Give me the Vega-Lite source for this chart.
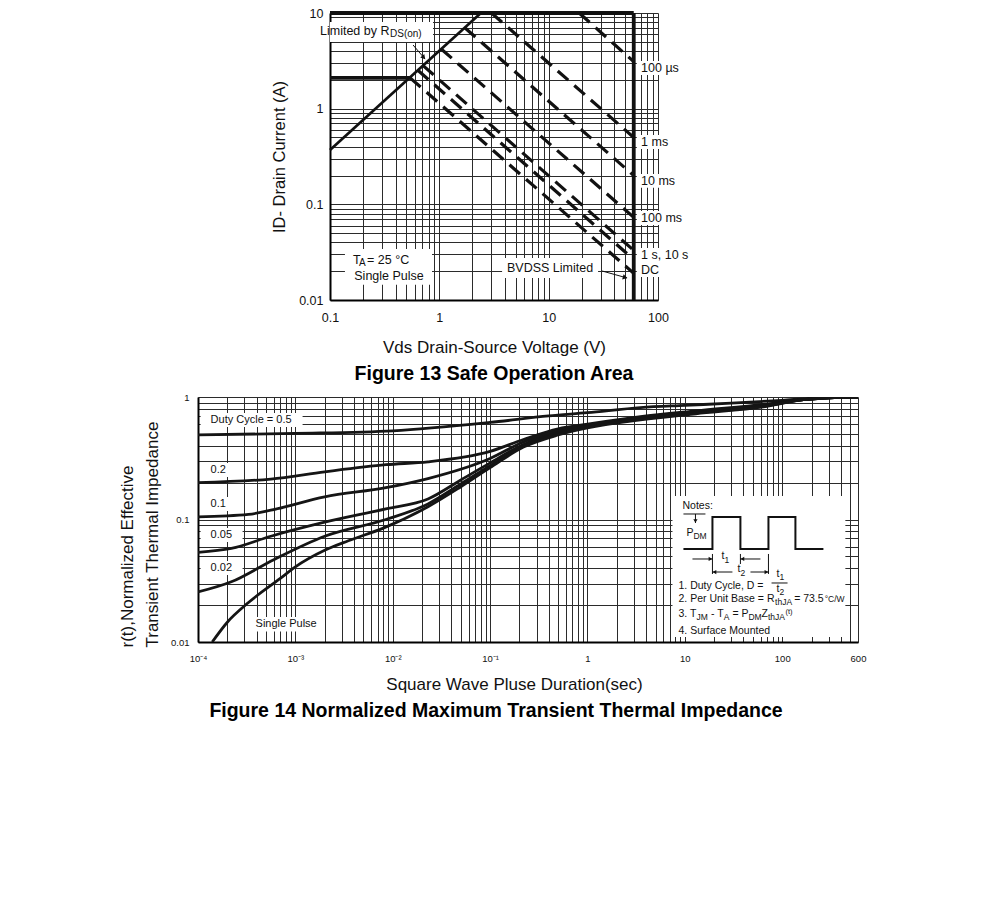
{
  "$schema": "https://vega.github.io/schema/vega-lite/v6.json",
  "padding": {"left": 118, "top": 5, "right": 5, "bottom": 5},
  "background": "white",
  "spacing": 9,
  "config": {
    "font": "Liberation Sans",
    "view": {"stroke": null},
    "axis": {"grid": true, "gridColor": "#2b2b2b", "gridWidth": 1, "ticks": false, "domainColor": "#000", "domainWidth": 2, "labelColor": "#111", "titleColor": "#111", "titleFontWeight": "normal", "labelFlush": false, "labelOverlap": false, "labelFont": "Liberation Sans", "titleFont": "Liberation Sans"},
    "title": {"font": "Liberation Sans", "fontWeight": "bold", "color": "#000"},
    "text": {"font": "Liberation Sans", "color": "#111"}
  },
  "datasets": {
    "soa_boxes": [
      {"box": "Limited by RDS(on)", "v": 0.1, "v2": 0.875, "i": 4.98, "i2": 8.05},
      {"box": "TA = 25 °C, Single Pulse", "v": 0.137, "v2": 0.857, "i": 0.0144, "i2": 0.0342},
      {"box": "BVDSS Limited", "v": 3.75, "v2": 28.3, "i": 0.017, "i2": 0.0275},
      {"box": "100 µs", "v": 64, "v2": 125, "i": 2.25, "i2": 3.15},
      {"box": "1 ms", "v": 64, "v2": 125, "i": 0.379, "i2": 0.532},
      {"box": "10 ms", "v": 64, "v2": 125, "i": 0.149, "i2": 0.208},
      {"box": "100 ms", "v": 64, "v2": 125, "i": 0.0609, "i2": 0.0854},
      {"box": "1 s, 10 s, DC", "v": 64, "v2": 125, "i": 0.0174, "i2": 0.035}
    ],
    "soa_solid": [
      {"series": "Pulsed ID limit", "v": 0.1, "i": 10},
      {"series": "Pulsed ID limit", "v": 60, "i": 10},
      {"series": "BVDSS limit", "v": 60, "i": 0.01},
      {"series": "BVDSS limit", "v": 60, "i": 10},
      {"series": "Continuous ID limit", "v": 0.1, "i": 2.1},
      {"series": "Continuous ID limit", "v": 0.54, "i": 2.1}
    ],
    "soa_rds": [
      {"series": "RDS(on) limit", "v": 0.1, "i": 0.37},
      {"series": "RDS(on) limit", "v": 2.4, "i": 10}
    ],
    "soa_pulse": [
      {"series": "100 µs", "v": 19, "i": 10}, {"series": "100 µs", "v": 60, "i": 3.1},
      {"series": "1 ms", "v": 3, "i": 10}, {"series": "1 ms", "v": 60, "i": 0.5},
      {"series": "10 ms", "v": 1.71, "i": 7.0}, {"series": "10 ms", "v": 60, "i": 0.2},
      {"series": "100 ms", "v": 1.04, "i": 4.21}, {"series": "100 ms", "v": 60, "i": 0.073},
      {"series": "1 s", "v": 0.71, "i": 2.82}, {"series": "1 s", "v": 60, "i": 0.033},
      {"series": "10 s", "v": 0.636, "i": 2.52}, {"series": "10 s", "v": 60, "i": 0.0265},
      {"series": "DC", "v": 0.54, "i": 2.1}, {"series": "DC", "v": 60, "i": 0.019}
    ],
    "soa_text_left": [
      {"label": "Limited by R", "v": 0.081, "i": 6.49},
      {"label": "T", "v": 0.162, "i": 0.02624},
      {"label": "= 25 °C", "v": 0.218, "i": 0.02624},
      {"label": "100 µs", "v": 70, "i": 2.66},
      {"label": "1 ms", "v": 70, "i": 0.449},
      {"label": "10 ms", "v": 70, "i": 0.176},
      {"label": "100 ms", "v": 70, "i": 0.0721},
      {"label": "1 s, 10 s", "v": 70, "i": 0.0296},
      {"label": "DC", "v": 70, "i": 0.0206}
    ],
    "soa_text_center": [
      {"label": "Single Pulse", "v": 0.3466, "i": 0.01787},
      {"label": "BVDSS Limited", "v": 10.3, "i": 0.0216}
    ],
    "soa_text_sub": [
      {"label": "DS(on)", "v": 0.354, "i": 6.04},
      {"label": "A", "v": 0.184, "i": 0.0244}
    ],
    "soa_arrows": [
      {"v": 0.575, "v2": 0.74, "i": 4.63, "i2": 3.3},
      {"v": 30.8, "v2": 52.1, "i": 0.0201, "i2": 0.017}
    ],
    "zth": [
      {"duty": "0.5", "t": 0.0001, "r": 0.49}, {"duty": "0.5", "t": 0.001, "r": 0.505}, {"duty": "0.5", "t": 0.01, "r": 0.53}, {"duty": "0.5", "t": 0.1, "r": 0.62}, {"duty": "0.5", "t": 0.4, "r": 0.7}, {"duty": "0.5", "t": 1, "r": 0.745}, {"duty": "0.5", "t": 3.5, "r": 0.82}, {"duty": "0.5", "t": 10, "r": 0.855}, {"duty": "0.5", "t": 30, "r": 0.89}, {"duty": "0.5", "t": 100, "r": 0.94}, {"duty": "0.5", "t": 200, "r": 0.975}, {"duty": "0.5", "t": 400, "r": 0.995}, {"duty": "0.5", "t": 600, "r": 1.0},
      {"duty": "0.2", "t": 0.0001, "r": 0.2}, {"duty": "0.2", "t": 0.00056, "r": 0.214}, {"duty": "0.2", "t": 0.002, "r": 0.245}, {"duty": "0.2", "t": 0.0085, "r": 0.28}, {"duty": "0.2", "t": 0.023, "r": 0.296}, {"duty": "0.2", "t": 0.1, "r": 0.36}, {"duty": "0.2", "t": 0.22, "r": 0.45}, {"duty": "0.2", "t": 0.5, "r": 0.55}, {"duty": "0.2", "t": 1, "r": 0.6}, {"duty": "0.2", "t": 3.5, "r": 0.69}, {"duty": "0.2", "t": 13, "r": 0.77}, {"duty": "0.2", "t": 64, "r": 0.87}, {"duty": "0.2", "t": 165, "r": 0.95}, {"duty": "0.2", "t": 300, "r": 0.985}, {"duty": "0.2", "t": 600, "r": 1.0},
      {"duty": "0.1", "t": 0.0001, "r": 0.105}, {"duty": "0.1", "t": 0.00033, "r": 0.11}, {"duty": "0.1", "t": 0.00056, "r": 0.119}, {"duty": "0.1", "t": 0.002, "r": 0.153}, {"duty": "0.1", "t": 0.0085, "r": 0.182}, {"duty": "0.1", "t": 0.023, "r": 0.216}, {"duty": "0.1", "t": 0.1, "r": 0.315}, {"duty": "0.1", "t": 0.22, "r": 0.43}, {"duty": "0.1", "t": 0.5, "r": 0.53}, {"duty": "0.1", "t": 1, "r": 0.59}, {"duty": "0.1", "t": 3.5, "r": 0.68}, {"duty": "0.1", "t": 13, "r": 0.76}, {"duty": "0.1", "t": 64, "r": 0.86}, {"duty": "0.1", "t": 165, "r": 0.95}, {"duty": "0.1", "t": 300, "r": 0.985}, {"duty": "0.1", "t": 600, "r": 1.0},
      {"duty": "0.05", "t": 0.0001, "r": 0.054}, {"duty": "0.05", "t": 0.00022, "r": 0.058}, {"duty": "0.05", "t": 0.00056, "r": 0.073}, {"duty": "0.05", "t": 0.002, "r": 0.095}, {"duty": "0.05", "t": 0.0085, "r": 0.122}, {"duty": "0.05", "t": 0.023, "r": 0.147}, {"duty": "0.05", "t": 0.05, "r": 0.21}, {"duty": "0.05", "t": 0.1, "r": 0.29}, {"duty": "0.05", "t": 0.22, "r": 0.41}, {"duty": "0.05", "t": 0.5, "r": 0.51}, {"duty": "0.05", "t": 1, "r": 0.58}, {"duty": "0.05", "t": 3.5, "r": 0.67}, {"duty": "0.05", "t": 13, "r": 0.75}, {"duty": "0.05", "t": 64, "r": 0.85}, {"duty": "0.05", "t": 165, "r": 0.95}, {"duty": "0.05", "t": 300, "r": 0.985}, {"duty": "0.05", "t": 600, "r": 1.0},
      {"duty": "0.02", "t": 0.0001, "r": 0.0256}, {"duty": "0.02", "t": 0.00022, "r": 0.031}, {"duty": "0.02", "t": 0.0006, "r": 0.047}, {"duty": "0.02", "t": 0.002, "r": 0.073}, {"duty": "0.02", "t": 0.0085, "r": 0.1}, {"duty": "0.02", "t": 0.023, "r": 0.134}, {"duty": "0.02", "t": 0.05, "r": 0.195}, {"duty": "0.02", "t": 0.1, "r": 0.275}, {"duty": "0.02", "t": 0.22, "r": 0.4}, {"duty": "0.02", "t": 0.5, "r": 0.5}, {"duty": "0.02", "t": 1, "r": 0.57}, {"duty": "0.02", "t": 3.5, "r": 0.66}, {"duty": "0.02", "t": 13, "r": 0.74}, {"duty": "0.02", "t": 64, "r": 0.84}, {"duty": "0.02", "t": 165, "r": 0.95}, {"duty": "0.02", "t": 300, "r": 0.985}, {"duty": "0.02", "t": 600, "r": 1.0},
      {"duty": "Single Pulse", "t": 0.00014, "r": 0.01}, {"duty": "Single Pulse", "t": 0.0002, "r": 0.0145}, {"duty": "Single Pulse", "t": 0.00033, "r": 0.021}, {"duty": "Single Pulse", "t": 0.0007, "r": 0.033}, {"duty": "Single Pulse", "t": 0.001, "r": 0.041}, {"duty": "Single Pulse", "t": 0.002, "r": 0.056}, {"duty": "Single Pulse", "t": 0.0035, "r": 0.067}, {"duty": "Single Pulse", "t": 0.008, "r": 0.085}, {"duty": "Single Pulse", "t": 0.023, "r": 0.127}, {"duty": "Single Pulse", "t": 0.05, "r": 0.185}, {"duty": "Single Pulse", "t": 0.1, "r": 0.265}, {"duty": "Single Pulse", "t": 0.22, "r": 0.39}, {"duty": "Single Pulse", "t": 0.5, "r": 0.49}, {"duty": "Single Pulse", "t": 1, "r": 0.56}, {"duty": "Single Pulse", "t": 3.5, "r": 0.65}, {"duty": "Single Pulse", "t": 13, "r": 0.73}, {"duty": "Single Pulse", "t": 64, "r": 0.83}, {"duty": "Single Pulse", "t": 165, "r": 0.95}, {"duty": "Single Pulse", "t": 300, "r": 0.985}, {"duty": "Single Pulse", "t": 600, "r": 1.0}
    ],
    "zth_boxes": [
      {"box": "Duty Cycle = 0.5", "t": 0.0001064, "t2": 0.001186, "r": 0.569, "r2": 0.74},
      {"box": "0.2", "t": 0.0001064, "t2": 0.0002265, "r": 0.222, "r2": 0.289},
      {"box": "0.1", "t": 0.0001064, "t2": 0.0002265, "r": 0.1174, "r2": 0.1528},
      {"box": "0.05", "t": 0.0001064, "t2": 0.000287, "r": 0.0656, "r2": 0.0853},
      {"box": "0.02", "t": 0.0001064, "t2": 0.000287, "r": 0.0352, "r2": 0.0458},
      {"box": "Single Pulse", "t": 0.000364, "t2": 0.001815, "r": 0.0122, "r2": 0.016},
      {"box": "Notes", "t": 7.46, "t2": 445, "r": 0.011, "r2": 0.1555}
    ],
    "zth_labels": [
      {"label": "Duty Cycle = 0.5", "t": 0.0001347, "r": 0.649},
      {"label": "0.2", "t": 0.0001347, "r": 0.253},
      {"label": "0.1", "t": 0.0001347, "r": 0.1337},
      {"label": "0.05", "t": 0.0001347, "r": 0.0749},
      {"label": "0.02", "t": 0.0001347, "r": 0.0401},
      {"label": "Single Pulse", "t": 0.00039, "r": 0.01403}
    ],
    "wave": [
      {"k": 0, "t": 9.67, "r": 0.05742}, {"k": 1, "t": 19.2, "r": 0.05742}, {"k": 2, "t": 19.2, "r": 0.1048}, {"k": 3, "t": 37.2, "r": 0.1048}, {"k": 4, "t": 37.2, "r": 0.05742}, {"k": 5, "t": 72.2, "r": 0.05742}, {"k": 6, "t": 72.2, "r": 0.1048}, {"k": 7, "t": 136.6, "r": 0.1048}, {"k": 8, "t": 136.6, "r": 0.05742}, {"k": 9, "t": 264.8, "r": 0.05742}
    ],
    "note_rules": [
      {"t": 9.67, "t2": 16.27, "r": 0.1109, "r2": 0.1109},
      {"t": 12.85, "t2": 12.85, "r": 0.1109, "r2": 0.0936},
      {"t": 19.2, "t2": 19.2, "r": 0.05231, "r2": 0.03591},
      {"t": 37.2, "t2": 37.2, "r": 0.05231, "r2": 0.04332},
      {"t": 72.2, "t2": 72.2, "r": 0.05231, "r2": 0.03591},
      {"t": 11.97, "t2": 19.2, "r": 0.0476, "r2": 0.0476},
      {"t": 59.7, "t2": 37.2, "r": 0.0476, "r2": 0.0476},
      {"t": 30.8, "t2": 19.2, "r": 0.03727, "r2": 0.03727},
      {"t": 47.2, "t2": 72.2, "r": 0.03727, "r2": 0.03727},
      {"t": 77.7, "t2": 113.4, "r": 0.03032, "r2": 0.03032}
    ],
    "note_text": [
      {"label": "Notes:", "t": 9.45, "r": 0.1289},
      {"label": "P", "t": 10.38, "r": 0.0776},
      {"label": "t", "t": 23.75, "r": 0.0504},
      {"label": "t", "t": 34.7, "r": 0.0394},
      {"label": "t", "t": 87.2, "r": 0.0356},
      {"label": "t", "t": 87.2, "r": 0.0272},
      {"label": "1. Duty Cycle, D =", "t": 8.6, "r": 0.02865},
      {"label": "2. Per Unit Base = R", "t": 8.6, "r": 0.02244},
      {"label": "= 73.5", "t": 132.5, "r": 0.02244},
      {"label": "3. T", "t": 8.6, "r": 0.01693},
      {"label": "- T", "t": 18.53, "r": 0.01693},
      {"label": "= P", "t": 30.8, "r": 0.01693},
      {"label": "Z", "t": 61.15, "r": 0.01693},
      {"label": "4. Surface Mounted", "t": 8.6, "r": 0.0123}
    ],
    "note_sub": [
      {"label": "DM", "t": 12.25, "r": 0.0733},
      {"label": "1", "t": 25.5, "r": 0.0467},
      {"label": "2", "t": 37.2, "r": 0.0366},
      {"label": "1", "t": 93.6, "r": 0.0337},
      {"label": "2", "t": 93.6, "r": 0.0257},
      {"label": "thJA", "t": 84.5, "r": 0.0212},
      {"label": "°C/W", "t": 273, "r": 0.02244},
      {"label": "JM", "t": 13.16, "r": 0.016},
      {"label": "A", "t": 25.08, "r": 0.016},
      {"label": "DM", "t": 44.98, "r": 0.016},
      {"label": "thJA", "t": 71.3, "r": 0.016}
    ]
  },
  "vconcat": [
    {
      "spacing": 0,
      "hconcat": [
        {"width": 73, "height": 10, "data": {"values": []}, "mark": {"type": "point", "opacity": 0}, "encoding": {}},
        {
          "width": 328,
          "height": 287,
          "title": {"text": "Figure 13 Safe Operation Area", "orient": "bottom", "fontSize": 19.5, "offset": 9},
          "encoding": {
            "x": {"field": "v", "type": "quantitative", "scale": {"type": "log", "domain": [0.1, 100], "nice": false},
              "axis": {"values": [0.1, 0.2, 0.3, 0.4, 0.5, 0.6, 0.7, 0.8, 0.9, 1, 2, 3, 4, 5, 6, 7, 8, 9, 10, 20, 30, 40, 50, 60, 70, 80, 90, 100],
                "labelExpr": "datum.value == 0.1 ? '0.1' : datum.value == 1 ? '1' : datum.value == 10 ? '10' : datum.value == 100 ? '100' : ''",
                "title": "Vds Drain-Source Voltage (V)", "labelFontSize": 12.5, "labelPadding": 11, "titleFontSize": 17, "titlePadding": 16}},
            "y": {"field": "i", "type": "quantitative", "scale": {"type": "log", "domain": [0.01, 10], "nice": false},
              "axis": {"values": [0.01, 0.02, 0.03, 0.04, 0.05, 0.06, 0.07, 0.08, 0.09, 0.1, 0.2, 0.3, 0.4, 0.5, 0.6, 0.7, 0.8, 0.9, 1, 2, 3, 4, 5, 6, 7, 8, 9, 10],
                "labelExpr": "datum.value == 10 ? '10' : datum.value == 1 ? '1' : datum.value == 0.1 ? '0.1' : datum.value == 0.01 ? '0.01' : ''",
                "title": "ID- Drain Current (A)", "labelFontSize": 12.5, "labelPadding": 7, "titleFontSize": 16.5, "titlePadding": 11}}
          },
          "layer": [
            {"data": {"name": "soa_boxes"}, "mark": {"type": "rect", "fill": "white"}, "encoding": {"x2": {"field": "v2"}, "y2": {"field": "i2"}}},
            {"data": {"name": "soa_solid"}, "mark": {"type": "line", "color": "#111", "strokeWidth": 3.8, "strokeCap": "butt"}, "encoding": {"detail": {"field": "series"}}},
            {"data": {"name": "soa_rds"}, "mark": {"type": "line", "color": "#111", "strokeWidth": 2.7}, "encoding": {"detail": {"field": "series"}}},
            {"data": {"name": "soa_pulse"}, "mark": {"type": "line", "color": "#111", "strokeWidth": 3.2, "strokeDash": [14, 8]}, "encoding": {"detail": {"field": "series"}}},
            {"data": {"name": "soa_arrows"}, "mark": {"type": "rule", "color": "#111", "strokeWidth": 1}, "encoding": {"x2": {"field": "v2"}, "y2": {"field": "i2"}}},
            {"data": {"values": [{"v": 0.72, "i": 3.43}]}, "mark": {"type": "point", "shape": "triangle-down", "filled": true, "color": "#111", "opacity": 1, "size": 28, "angle": -40}},
            {"data": {"values": [{"v": 50, "i": 0.0172}]}, "mark": {"type": "point", "shape": "triangle-down", "filled": true, "color": "#111", "opacity": 1, "size": 28, "angle": -74}},
            {"data": {"name": "soa_text_left"}, "mark": {"type": "text", "align": "left", "baseline": "middle", "fontSize": 12.5}, "encoding": {"text": {"field": "label"}}},
            {"data": {"name": "soa_text_center"}, "mark": {"type": "text", "align": "center", "baseline": "middle", "fontSize": 12.5}, "encoding": {"text": {"field": "label"}}},
            {"data": {"name": "soa_text_sub"}, "mark": {"type": "text", "align": "left", "baseline": "middle", "fontSize": 10}, "encoding": {"text": {"field": "label"}}}
          ]
        }
      ]
    },
    {
      "width": 660,
      "height": 245,
      "title": {"text": "Figure 14 Normalized Maximum Transient Thermal Impedance", "orient": "bottom", "fontSize": 19.5, "offset": 9, "dx": -32},
      "encoding": {
        "x": {"field": "t", "type": "quantitative", "scale": {"type": "log", "domain": [0.0001, 600], "nice": false},
          "axis": {"values": [0.0001, 0.0002, 0.0003, 0.0004, 0.0005, 0.0006, 0.0007, 0.0008, 0.0009, 0.001, 0.002, 0.003, 0.004, 0.005, 0.006, 0.007, 0.008, 0.009, 0.01, 0.02, 0.03, 0.04, 0.05, 0.06, 0.07, 0.08, 0.09, 0.1, 0.2, 0.3, 0.4, 0.5, 0.6, 0.7, 0.8, 0.9, 1, 2, 3, 4, 5, 6, 7, 8, 9, 10, 20, 30, 40, 50, 60, 70, 80, 90, 100, 200, 300, 400, 500, 600],
            "labelExpr": "datum.value == 0.0001 ? '10⁻⁴' : datum.value == 0.001 ? '10⁻³' : datum.value == 0.01 ? '10⁻²' : datum.value == 0.1 ? '10⁻¹' : datum.value == 1 ? '1' : datum.value == 10 ? '10' : datum.value == 100 ? '100' : datum.value == 600 ? '600' : ''",
            "title": "Square Wave Pluse Duration(sec)", "titleX": 316, "labelFontSize": 9.5, "labelPadding": 11, "titleFontSize": 17, "titlePadding": 14}},
        "y": {"field": "r", "type": "quantitative", "scale": {"type": "log", "domain": [0.01, 1], "nice": false},
          "axis": {"values": [0.01, 0.02, 0.03, 0.04, 0.05, 0.06, 0.07, 0.08, 0.09, 0.1, 0.2, 0.3, 0.4, 0.5, 0.6, 0.7, 0.8, 0.9, 1],
            "labelExpr": "datum.value == 1 ? '1' : datum.value == 0.1 ? '0.1' : datum.value == 0.01 ? '0.01' : ''",
            "title": ["r(t),Normalized Effective", "Transient Thermal Impedance"], "titleFontSize": 17, "titleLineHeight": 25, "titleAlign": "left", "titleY": 250,
            "labelFontSize": 9.5, "labelPadding": 9, "titlePadding": 9}}
      },
      "layer": [
        {"data": {"name": "zth_boxes"}, "mark": {"type": "rect", "fill": "white"}, "encoding": {"x2": {"field": "t2"}, "y2": {"field": "r2"}}},
        {"data": {"name": "zth"}, "mark": {"type": "line", "color": "#151515", "strokeWidth": 2.8, "interpolate": "monotone", "clip": true}, "encoding": {"detail": {"field": "duty"}}},
        {"data": {"name": "wave"}, "mark": {"type": "line", "color": "#111", "strokeWidth": 2}, "encoding": {"order": {"field": "k"}}},
        {"data": {"name": "note_rules"}, "mark": {"type": "rule", "color": "#111", "strokeWidth": 1}, "encoding": {"x2": {"field": "t2"}, "y2": {"field": "r2"}}},
        {"data": {"values": [{"t": 18.32, "r": 0.0476}, {"t": 68.8, "r": 0.03727}]}, "mark": {"type": "point", "shape": "triangle-right", "filled": true, "color": "#111", "opacity": 1, "size": 18}},
        {"data": {"values": [{"t": 39.0, "r": 0.0476}, {"t": 20.14, "r": 0.03727}]}, "mark": {"type": "point", "shape": "triangle-left", "filled": true, "color": "#111", "opacity": 1, "size": 18}},
        {"data": {"values": [{"t": 12.85, "r": 0.0972}]}, "mark": {"type": "point", "shape": "triangle-down", "filled": true, "color": "#111", "opacity": 1, "size": 18}},
        {"data": {"name": "zth_labels"}, "mark": {"type": "text", "align": "left", "baseline": "middle", "fontSize": 11}, "encoding": {"text": {"field": "label"}}},
        {"data": {"name": "note_text"}, "mark": {"type": "text", "align": "left", "baseline": "middle", "fontSize": 10.5}, "encoding": {"text": {"field": "label"}}},
        {"data": {"name": "note_sub"}, "mark": {"type": "text", "align": "left", "baseline": "middle", "fontSize": 8.5}, "encoding": {"text": {"field": "label"}}},
        {"data": {"values": [{"label": "(t)", "t": 107.9, "r": 0.0176}]}, "mark": {"type": "text", "align": "left", "baseline": "middle", "fontSize": 7.5}, "encoding": {"text": {"field": "label"}}}
      ]
    }
  ]
}
